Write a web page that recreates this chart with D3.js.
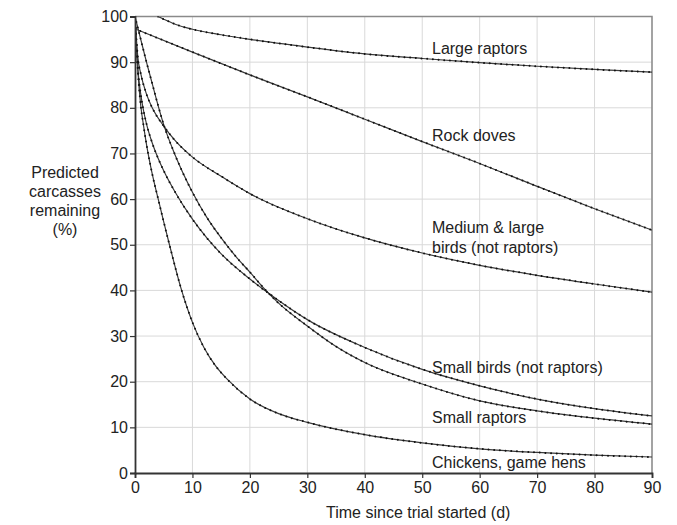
<!DOCTYPE html>
<html lang="en">
<head>
<meta charset="utf-8">
<title>Predicted carcasses remaining</title>
<script src="https://cdn.jsdelivr.net/npm/d3@7"></script>
<style>
  body { margin: 0; background: #fff; font-family: 'Liberation Sans', Arial, sans-serif; }
  .tick text { font-size: 16px; fill: #222; }
  .grid line { stroke: #d9d9d9; stroke-width: 1; }
  .label { font-size: 16px; fill: #222; }
</style>
</head>
<body>
<svg id="chart" width="677" height="525"></svg>
<script>

/* Data (day, % remaining) */
/* ========================================== */

var largeRaptors = [[4,100],[5,99.4],[7,98.3],[10,97.2],[15,96],[20,95],[30,93.3],[40,91.8],[50,90.8],[60,89.9],[70,89.1],[80,88.4],[90,87.8]];
var rockDoves = [[0,97.3],[10,92.2],[20,87.2],[30,82.4],[40,77.5],[50,72.6],[60,67.8],[70,62.8],[80,57.9],[90,53.2]];
var mediumLarge = [[0,100],[0.5,91],[1,87.5],[2,83],[3,80],[5,76],[7,72.8],[10,69.2],[15,65],[20,61.2],[30,55.7],[40,51.5],[50,48.2],[60,45.5],[70,43.3],[80,41.4],[90,39.6]];
var smallBirds = [[0,100],[0.5,88.5],[1,83],[1.5,79.3],[2,76.5],[3,72.3],[4,69],[5,66.2],[7,61.5],[10,55.6],[12.5,51.5],[15,48],[20,42.5],[25,37.8],[30,33.6],[40,27.5],[50,22.7],[60,19.1],[70,16.2],[80,14.1],[90,12.5]];
var smallRaptors = [[0,100],[1,95],[2,90],[3,85.3],[4,80.6],[5,76.3],[7,69.6],[10,61.5],[12.5,56],[15,51.5],[17.5,47.5],[20,44],[22.5,40.4],[25,37.2],[30,32.2],[35,27.7],[40,24.2],[50,19.5],[60,15.8],[70,13.6],[80,12],[90,10.7]];
var chickens = [[0,100],[0.5,88],[1,80.5],[1.5,76],[2,72],[3,65.5],[4,60.2],[5,55],[6,50],[8,40.5],[10,33],[12,27.5],[14,23.5],[16,20.6],[20,16.2],[25,13],[30,11.1],[40,8.4],[50,6.6],[60,5.3],[70,4.5],[80,3.9],[90,3.5]];

var allSeries = [largeRaptors, rockDoves, mediumLarge, smallBirds, smallRaptors, chickens];

// Curve labels and the value of their first baseline
var labelLines = [['Large raptors'], ['Rock doves'], ['Medium & large', 'birds (not raptors)'], ['Small birds (not raptors)'], ['Small raptors'], ['Chickens, game hens']];
var labelValues = [91.8, 72.7, 52.6, 21.9, 10.9, 1.1];

var xTicks = [0, 10, 20, 30, 40, 50, 60, 70, 80, 90];
var yTicks = [0, 10, 20, 30, 40, 50, 60, 70, 80, 90, 100];
var yTitle = ['Predicted', 'carcasses', 'remaining', '(%)'];
var xTitle = 'Time since trial started (d)';


/* Set up scales */
/* ============= */

var margin = { top: 16.5, right: 25, bottom: 52, left: 135 },
    width = 677 - margin.left - margin.right,
    height = 525 - margin.top - margin.bottom;

var x = d3.scaleLinear().domain([0, 90]).range([0, width]);
var y = d3.scaleLinear().domain([0, 100]).range([height, 0]);

var svg = d3.select('#chart');
var g = svg.append('g').attr('transform', 'translate(' + margin.left + ',' + margin.top + ')');

g.append('clipPath').attr('id', 'plot-clip')
  .append('rect').attr('width', width).attr('height', height);


/* Grid and frame */
/* ============== */

g.append('g').attr('class', 'grid')
  .selectAll('line').data(xTicks.slice(1)).join('line')
  .attr('x1', d => x(d)).attr('x2', d => x(d))
  .attr('y1', 0).attr('y2', height);

g.append('g').attr('class', 'grid')
  .selectAll('line').data(yTicks.slice(1)).join('line')
  .attr('x1', 0).attr('x2', width)
  .attr('y1', d => y(d)).attr('y2', d => y(d));

// top and right border
g.append('path')
  .attr('d', 'M0,0H' + width + 'V' + height)
  .attr('fill', 'none').attr('stroke', '#8a8a8a').attr('stroke-width', 1.5);


/* Curves */
/* ====== */

var line = d3.line()
  .x(d => x(d[0]))
  .y(d => y(d[1]))
  .curve(d3.curveMonotoneX);

var curves = g.append('g').attr('clip-path', 'url(#plot-clip)');

curves.selectAll('path.curve').data(allSeries).join('path')
  .attr('class', 'curve')
  .attr('d', line)
  .attr('fill', 'none')
  .attr('stroke', '#3a3a3a')
  .attr('stroke-width', 1.2);

// beaded look of the original lines
curves.selectAll('path.beads').data(allSeries).join('path')
  .attr('class', 'beads')
  .attr('d', line)
  .attr('fill', 'none')
  .attr('stroke', '#111')
  .attr('stroke-width', 2)
  .attr('stroke-linecap', 'round')
  .attr('stroke-dasharray', '0 5.7');


/* Axes */
/* ==== */

var xAxis = g.append('g')
  .attr('transform', 'translate(0,' + height + ')')
  .call(d3.axisBottom(x).tickValues(xTicks).tickSize(5).tickPadding(4));

var yAxis = g.append('g')
  .call(d3.axisLeft(y).tickValues(yTicks).tickSize(5).tickPadding(2));

[xAxis, yAxis].forEach(function(ax) {
  ax.select('.domain').attr('stroke', '#333').attr('stroke-width', 1.8);
  ax.selectAll('.tick line').attr('stroke', '#333').attr('stroke-width', 1.2);
  ax.selectAll('.tick text').attr('font-family', "'Liberation Sans', Arial, sans-serif");
});


/* Labels */
/* ====== */

labelLines.forEach(function(lines, i) {
  var t = g.append('text').attr('class', 'label')
    .attr('x', x(51.7))
    .attr('y', y(labelValues[i]));
  lines.forEach(function(s, j) {
    t.append('tspan').attr('x', x(51.7)).attr('dy', j ? 20 : 0).text(s);
  });
});

var yt = svg.append('text').attr('class', 'label')
  .attr('text-anchor', 'middle')
  .attr('x', 65).attr('y', 178);
yTitle.forEach(function(s, j) {
  yt.append('tspan').attr('x', 65).attr('dy', j ? 19 : 0).text(s);
});

svg.append('text').attr('class', 'label')
  .attr('text-anchor', 'middle')
  .attr('x', margin.left + x(49.3))
  .attr('y', 518)
  .text(xTitle);

</script>
</body>
</html>
